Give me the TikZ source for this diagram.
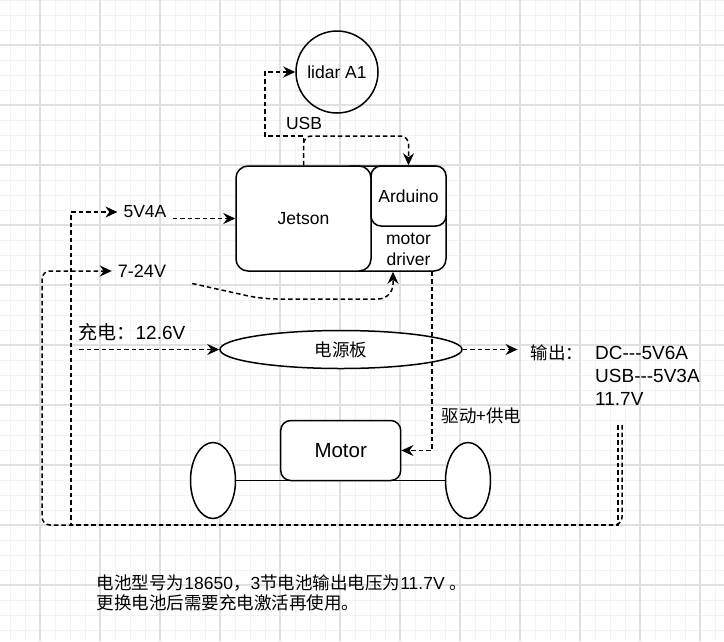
\documentclass[tikz,border=0pt]{standalone}
\usepackage{fontspec}
\setmainfont{Liberation Sans}
\newfontfamily\cjk{Noto Sans CJK SC}
\usetikzlibrary{arrows.meta,positioning,shapes.geometric}
\tikzset{box/.style={draw, line width=1.5pt, rectangle, rounded corners=12pt, fill=white}, wheel/.style={draw, line width=1.5pt, ellipse, minimum width=45pt, minimum height=76pt, inner sep=0pt, fill=white}, link/.style={line width=1.5pt, dash pattern=on 4.5pt off 3pt, -{Stealth[length=12pt,width=11pt,inset=4pt]}}, tag/.style={inner sep=6pt}, minor/.style={black!5, line width=1pt}, major/.style={black!12, line width=1.2pt}}

\begin{document}
\begin{tikzpicture}[x=1pt, y=-1pt, font=\fontsize{17.5pt}{21pt}\selectfont]
    \useasboundingbox (0,0) rectangle (724,641);
    \foreach \x in {10,25,...,720} \draw[minor] (\x,0) -- (\x,641);
    \foreach \y in {0,15,...,640} \draw[minor] (0,\y) -- (724,\y);
    \foreach \x in {40,100,...,700} \draw[major] (\x,0) -- (\x,641);
    \foreach \y in {45,105,...,585} \draw[major] (0,\y) -- (724,\y);

    \node[box, minimum width=106pt, minimum height=105pt] (driver) at (393,218.5) {};
    \node[box, minimum width=135pt, minimum height=105pt] (jetson) at (303.5,218.5) {Jetson};
    \node[box, minimum width=75pt, minimum height=60pt, rounded corners=10pt] (arduino) at (408.5,196) {Arduino};
    \node[align=center] (drvtxt) at (408.5,249) {motor\\driver};
    \node[draw, circle, line width=1.5pt, minimum size=82pt, inner sep=0pt] (lidar) at (337,72) {lidar A1};
    \node (usb) at (304,123) {USB};
    \coordinate (usbL) at (265,136);

    \node[tag] (in5) at (145,212) {5V4A};
    \node[tag, font=\fontsize{18pt}{21pt}\selectfont] (in7) at (142,271) {7-24V};
    \coordinate (bend) at (262,299);
    \node[tag, font=\fontsize{19pt}{21pt}\selectfont] (charge) at (132,332) {{\cjk 充电：}12.6V};
    \node[draw, ellipse, line width=1.5pt, minimum width=242pt, minimum height=38pt, fill=white] (board) at (341,349.5) {\cjk 电源板};
    \node[inner sep=13pt] (out) at (557,352.7) {\cjk 输出：};
    \node[align=left, anchor=north west, inner sep=0pt, font=\fontsize{19pt}{23pt}\selectfont] (spec) at (595,346) {DC-{}-{}-5V6A\\USB-{}-{}-5V3A\\11.7V};

    \node (drive) at (481.5,416) {\cjk 驱动+供电};
    \node[box, minimum width=120pt, minimum height=60pt, rounded corners=10pt, font=\fontsize{20.5pt}{24pt}\selectfont] (motor) at (340.7,450.5) {Motor};
    \node[wheel] (wheelL) at (213,480.5) {};
    \node[wheel] (wheelR) at (468,480.5) {};
    \draw[line width=1.5pt] (wheelL.east) -- (wheelR.west);

    \coordinate (tapA) at (618,425);
    \coordinate (tapB) at (622,425);
    \coordinate (loopA) at (71,525);
    \coordinate (loopB) at (42,525);

    \node[align=left, anchor=west, inner sep=0pt, font=\fontsize{17.5pt}{19.5pt}\selectfont] (note) at (96.7,593) {{\cjk 电池型号为}18650{\cjk ，}3{\cjk 节电池输出电压为}11.7V {\cjk 。}\\{\cjk 更换电池后需要充电激活再使用。}};

    \draw[link] (jetson.north) |- (usbL) |- (lidar.west);
    \draw[link, rounded corners=8pt] (jetson.north) -- (jetson.north |- usbL) -| (arduino.north);
    \draw[link] (in5.east |- jetson.west) -- (jetson.west);
    \draw[link, rounded corners=15pt] ([xshift=20pt]in7.south east) -- (bend) -| (driver.south);
    \draw[link] ([xshift=-15pt]driver.south east) |- (motor.east);
    \draw[link] ([xshift=7pt]charge.west |- board.west) -- (board.west);
    \draw[link] (board.east) -- (board.east -| out.west);
    \draw[link] (tapA) |- (loopA) |- (in5.west);
    \draw[link, rounded corners=8pt] (tapB) |- (loopB) |- (in7.west);
\end{tikzpicture}
\end{document}
